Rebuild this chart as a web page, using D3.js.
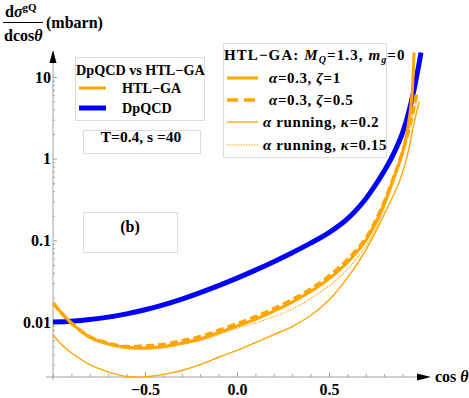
<!DOCTYPE html>
<html>
<head>
<meta charset="utf-8">
<script src="https://cdn.jsdelivr.net/npm/d3@7"></script>
<style>
  body { margin: 0; background: #fff; }
  svg { font-family: "Liberation Serif", "Times New Roman", serif; font-weight: bold; }
</style>
</head>
<body>
<svg id="chart" width="469" height="398"></svg>
<script>
// DpQCD curve
var dpCos = [-1, -0.9, -0.8, -0.7, -0.6, -0.5, -0.4, -0.3, -0.2, -0.1, 0, 0.1, 0.2, 0.3, 0.4, 0.5, 0.6, 0.7, 0.8, 0.85, 0.9, 0.95, 0.98, 1.0]
var dpVal = [0.0100, 0.01023, 0.01072, 0.01148, 0.01259, 0.01413, 0.01622, 0.01905, 0.02286, 0.02786, 0.03443, 0.04315, 0.05483, 0.07063, 0.09247, 0.1245, 0.1832, 0.3236, 0.7047, 1.138, 2.084, 5.236, 11.25, 19.86]

// HTL-GA, alpha=0.3, zeta=1
var z1Cos = [-1, -0.95, -0.9, -0.8, -0.7, -0.6, -0.5, -0.4, -0.3, -0.2, -0.1, 0, 0.1, 0.2, 0.3, 0.4, 0.5, 0.6, 0.7, 0.75, 0.8, 0.85, 0.9, 0.93, 0.95, 0.962]
var z1Val = [0.0171, 0.01259, 0.00971, 0.0065, 0.0054, 0.0049, 0.00481, 0.0050, 0.0055, 0.0062, 0.0074, 0.0089, 0.0108, 0.0136, 0.0175, 0.0236, 0.0339, 0.0537, 0.1000, 0.1585, 0.2818, 0.5623, 1.202, 2.512, 5.623, 19.95]

// HTL-GA, alpha=0.3, zeta=0.5
var z05Cos = [-1, -0.95, -0.9, -0.8, -0.7, -0.6, -0.5, -0.4, -0.3, -0.2, -0.1, 0, 0.1, 0.2, 0.3, 0.4, 0.5, 0.6, 0.7, 0.75, 0.8, 0.85, 0.9, 0.93, 0.95, 0.965, 0.977]
var z05Val = [0.0171, 0.0126, 0.0097, 0.0066, 0.0055, 0.0050, 0.0051, 0.0053, 0.0059, 0.0066, 0.0079, 0.0095, 0.0116, 0.0146, 0.0188, 0.0253, 0.0364, 0.058, 0.106, 0.168, 0.295, 0.58, 1.2, 2.1, 3.2, 4.6, 6.6]

// HTL-GA, alpha running, kappa=0.2
var k2Cos = [-1, -0.95, -0.9, -0.8, -0.7, -0.6, -0.5, -0.4, -0.3, -0.2, -0.1, 0, 0.1, 0.2, 0.3, 0.4, 0.5, 0.6, 0.7, 0.8, 0.886, 0.93, 0.96, 0.99]
var k2Val = [0.0069, 0.0052, 0.0042, 0.0030, 0.00245, 0.00215, 0.00213, 0.00228, 0.00255, 0.0030, 0.0037, 0.0045, 0.0056, 0.0070, 0.0088, 0.0120, 0.0186, 0.0347, 0.0759, 0.208, 0.55, 1.2, 2.6, 5.0]

// HTL-GA, alpha running, kappa=0.15
var k15Cos = [-1, -0.95, -0.9, -0.8, -0.7, -0.6, -0.5, -0.4, -0.3, -0.2, -0.1, 0, 0.1, 0.2, 0.3, 0.4, 0.5, 0.6, 0.7, 0.75, 0.8, 0.85, 0.9, 0.93, 0.96, 0.98]
var k15Val = [0.0171, 0.0123, 0.0094, 0.0063, 0.0052, 0.0047, 0.0046, 0.0048, 0.0053, 0.0059, 0.0070, 0.0084, 0.0097, 0.0116, 0.0144, 0.0194, 0.0278, 0.0440, 0.085, 0.136, 0.245, 0.51, 1.1, 2.0, 3.8, 5.5]

var xTicks = [-0.5, 0, 0.5]
var xTickLabels = ['\u22120.5', '0.0', '0.5']
var yTicks = [0.01, 0.1, 1, 10]
var yTickLabels = ['0.01', '0.1', '1', '10']

var svg = d3.select('#chart')
var x = d3.scaleLinear().domain([-1, 1]).range([53, 421])
var y = d3.scaleLog().domain([0.01, 10]).range([322, 77])
var x0 = x(-1), yBottom = 377, yTop = 50
var axisGray = '#a0a0a0'

// minor y ticks
var minorY = []
;[0.001, 0.01, 0.1, 1, 10].forEach(function (d) {
    for (var k = 2; k <= 9; k++) {
        var v = d * k
        if (y(v) < yBottom && y(v) > yTop + 8) minorY.push(v)
    }
})

var yMinor = svg.append('g').attr('transform', 'translate(' + x0 + ',0)')
    .call(d3.axisLeft(y).tickValues(minorY).tickSize(-2).tickFormat(''))
var yMajor = svg.append('g').attr('transform', 'translate(' + x0 + ',0)')
    .call(d3.axisLeft(y).tickValues(yTicks).tickSize(-4).tickPadding(2)
        .tickFormat(function (d, i) { return yTickLabels[i] }))

// x ticks
var minorX = d3.range(-10, 10).map(function (d) { return d / 10 })
    .filter(function (d) { return xTicks.indexOf(d) < 0 })
var xMinor = svg.append('g').attr('transform', 'translate(0,' + yBottom + ')')
    .call(d3.axisBottom(x).tickValues(minorX).tickSize(-3).tickFormat(''))
var xMajor = svg.append('g').attr('transform', 'translate(0,' + yBottom + ')')
    .call(d3.axisBottom(x).tickValues(xTicks).tickSize(-5).tickPadding(7)
        .tickFormat(function (d, i) { return xTickLabels[i] }))

;[yMinor, yMajor, xMinor, xMajor].forEach(function (g) {
    g.select('.domain').remove()
    g.selectAll('line').attr('stroke', axisGray)
    g.selectAll('text').attr('font-size', 16).attr('font-family', 'Liberation Serif')
        .attr('font-weight', 'bold').attr('fill', '#000')
})

// axis lines and arrows
svg.append('line').attr('x1', x0).attr('x2', x0).attr('y1', yBottom + 3).attr('y2', yTop + 6)
    .attr('stroke', axisGray)
svg.append('line').attr('x1', x0 - 7).attr('x2', 420).attr('y1', yBottom).attr('y2', yBottom)
    .attr('stroke', axisGray)
svg.append('path').attr('d', 'M' + x0 + ',' + yTop + 'L' + (x0 - 3.5) + ',' + (yTop + 13) + 'L' + (x0 + 3.5) + ',' + (yTop + 13) + 'Z')
    .attr('fill', '#000')
svg.append('path').attr('d', 'M431,' + yBottom + 'L417,' + (yBottom - 3.5) + 'L417,' + (yBottom + 3.5) + 'Z')
    .attr('fill', '#000')
var xl = svg.append('text').attr('x', 435).attr('y', 382).attr('font-size', 16)
xl.append('tspan').text('cos ')
xl.append('tspan').attr('font-style', 'italic').text('\u03b8')

// y axis title
var num = svg.append('text').attr('x', 5).attr('y', 17).attr('font-size', 16)
num.append('tspan').text('d')
num.append('tspan').attr('font-style', 'italic').text('\u03c3')
num.append('tspan').attr('font-size', 11).attr('dy', -6).text('gQ')
svg.append('line').attr('x1', 3).attr('x2', 43).attr('y1', 22.5).attr('y2', 22.5)
    .attr('stroke', '#000').attr('stroke-width', 1.2)
var den = svg.append('text').attr('x', 4).attr('y', 41).attr('font-size', 16)
den.append('tspan').text('dcos')
den.append('tspan').attr('font-style', 'italic').text('\u03b8')
svg.append('text').attr('x', 46).attr('y', 28).attr('font-size', 16).text('(mbarn)')

// curves
var clip = svg.append('clipPath').attr('id', 'plotClip')
clip.append('rect').attr('x', x0).attr('y', yTop + 2).attr('width', 380).attr('height', yBottom - yTop)

var line = d3.line()
    .x(function (d) { return x(d[0]) })
    .y(function (d) { return y(d[1]) })
    .curve(d3.curveCatmullRom.alpha(0.5))

function zipSeries(c, v) { return c.map(function (d, i) { return [d, v[i]] }) }

var plot = svg.append('g').attr('clip-path', 'url(#plotClip)')
var series = [
    { c: dpCos, v: dpVal, color: '#0000ff', w: 5, dash: null },
    { c: k2Cos, v: k2Val, color: '#ffa500', w: 1.4, dash: null },
    { c: k15Cos, v: k15Val, color: '#ffa500', w: 1.1, dash: '1.5,1.2' },
    { c: z1Cos, v: z1Val, color: '#ffa500', w: 3, dash: null },
    { c: z05Cos, v: z05Val, color: '#ffa500', w: 3.5, dash: '8,4' }
]
series.forEach(function (s) {
    plot.append('path')
        .datum(zipSeries(s.c, s.v))
        .attr('d', line)
        .attr('fill', 'none')
        .attr('stroke', s.color)
        .attr('stroke-width', s.w)
        .attr('stroke-dasharray', s.dash)
})

// left legend
var boxStroke = '#dddddd'
svg.append('rect').attr('x', 75.5).attr('y', 57.5).attr('width', 129).attr('height', 63)
    .attr('fill', '#fff').attr('stroke', boxStroke)
svg.append('text').attr('x', 76).attr('y', 75).attr('font-size', 14.2).text('DpQCD vs HTL\u2212GA')
svg.append('line').attr('x1', 79).attr('x2', 106).attr('y1', 88).attr('y2', 88)
    .attr('stroke', '#ffa500').attr('stroke-width', 3)
svg.append('text').attr('x', 122).attr('y', 93).attr('font-size', 14.2).text('HTL\u2212GA')
svg.append('line').attr('x1', 79).attr('x2', 106).attr('y1', 108).attr('y2', 108)
    .attr('stroke', '#0000ff').attr('stroke-width', 5)
svg.append('text').attr('x', 122).attr('y', 113).attr('font-size', 14.2).text('DpQCD')

svg.append('rect').attr('x', 83.5).attr('y', 130.5).attr('width', 117).attr('height', 23)
    .attr('fill', '#fff').attr('stroke', boxStroke)
svg.append('text').attr('x', 141).attr('y', 142).attr('text-anchor', 'middle').attr('font-size', 15.5)
    .text('T=0.4, s =40')

svg.append('rect').attr('x', 83.5).attr('y', 212.5).attr('width', 94).attr('height', 40)
    .attr('fill', '#fff').attr('stroke', boxStroke)
svg.append('text').attr('x', 130).attr('y', 232).attr('text-anchor', 'middle').attr('font-size', 16)
    .text('(b)')

// right legend
svg.append('rect').attr('x', 223.5).attr('y', 43.5).attr('width', 163).attr('height', 114)
    .attr('fill', '#fff').attr('stroke', boxStroke)
var tt = svg.append('text').attr('x', 224).attr('y', 60).attr('font-size', 15).attr('letter-spacing', 1.1)
tt.append('tspan').text('HTL\u2212GA: ')
tt.append('tspan').attr('font-style', 'italic').text('M')
tt.append('tspan').attr('font-style', 'italic').attr('font-size', 10).attr('dy', 3).text('Q')
tt.append('tspan').attr('dy', -3).text('=1.3, ')
tt.append('tspan').attr('font-style', 'italic').text('m')
tt.append('tspan').attr('font-style', 'italic').attr('font-size', 10).attr('dy', 3).text('g')
tt.append('tspan').attr('dy', -3).text('=0')

var legRows = [
    { w: 3, dash: null, parts: [['\u03b1', 1], ['=0.3, ', 0], ['\u03b6', 1], ['=1', 0]], tx: 269 },
    { w: 3.5, dash: '11,6', parts: [['\u03b1', 1], ['=0.3, ', 0], ['\u03b6', 1], ['=0.5', 0]], tx: 269 },
    { w: 1.4, dash: null, parts: [['\u03b1', 1], [' running, ', 0], ['\u03ba', 1], ['=0.2', 0]], tx: 263 },
    { w: 1.1, dash: '1.5,1.2', parts: [['\u03b1', 1], [' running, ', 0], ['\u03ba', 1], ['=0.15', 0]], tx: 263 }
]
var rowY = [78, 100, 122, 145]
legRows.forEach(function (r, i) {
    svg.append('line').attr('x1', 227).attr('x2', 258).attr('y1', rowY[i]).attr('y2', rowY[i])
        .attr('stroke', '#ffa500').attr('stroke-width', r.w).attr('stroke-dasharray', r.dash)
    var t = svg.append('text').attr('x', r.tx).attr('y', rowY[i] + 5).attr('font-size', 15)
        .attr('letter-spacing', 0.6)
    r.parts.forEach(function (p) {
        t.append('tspan').attr('font-style', p[1] ? 'italic' : null).text(p[0])
    })
})
</script>
</body>
</html>
